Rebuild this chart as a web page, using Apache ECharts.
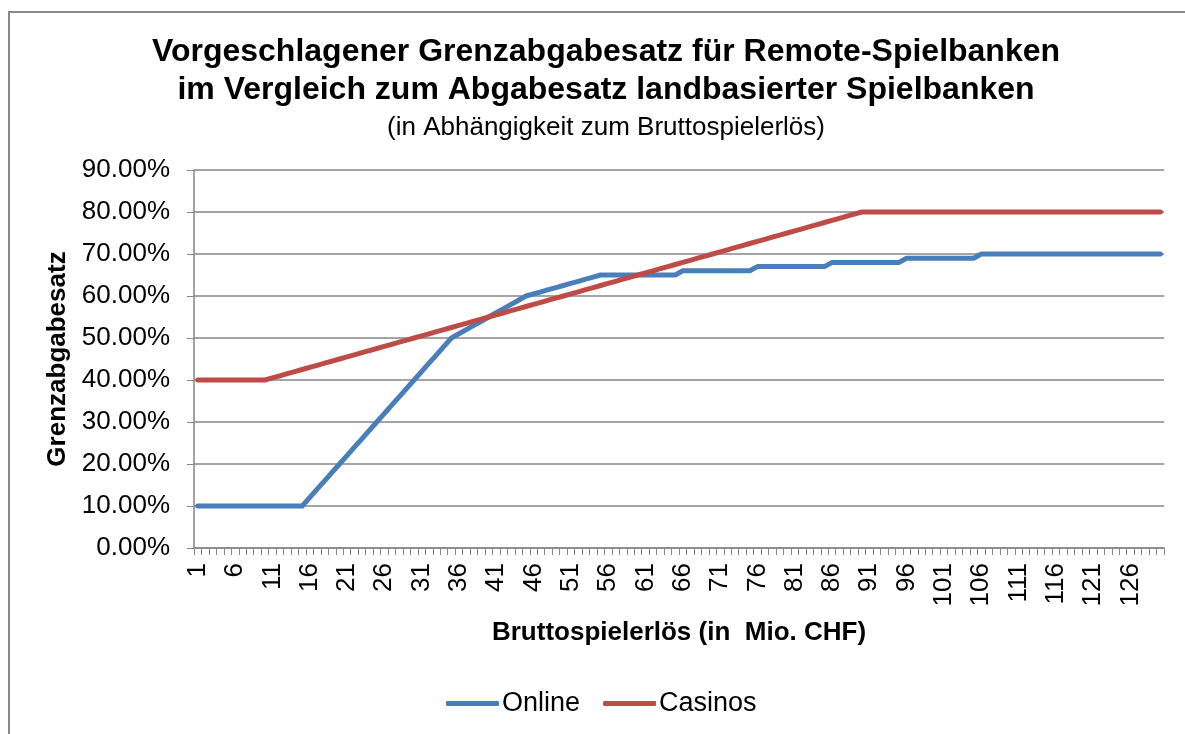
<!DOCTYPE html>
<html>
<head>
<meta charset="utf-8">
<script src="https://cdn.jsdelivr.net/npm/echarts@6/dist/echarts.min.js"></script>
<style>
  html, body { margin: 0; padding: 0; background: #fff; overflow: hidden; }
  #frame { position: absolute; left: 8px; top: 11px; width: 1300px; height: 900px;
           border-top: 2px solid #888; border-left: 2px solid #888; }
  #chart { position: absolute; left: 0; top: 0; width: 1185px; height: 734px; }
</style>
</head>
<body>
<div id="frame"></div>
<div id="chart"></div>
<script>
// Bruttospielerlös in Mio. CHF, 1..130
var categories = [];
for (var i = 1; i <= 130; i++) categories.push(String(i));

// Grenzabgabesatz in %
var online = [
  10, 10, 10, 10, 10, 10, 10, 10, 10, 10, 10, 10, 10, 10, 10,
  12, 14, 16, 18, 20, 22, 24, 26, 28, 30, 32, 34, 36, 38, 40, 42, 44, 46, 48, 50,
  51, 52, 53, 54, 55, 56, 57, 58, 59, 60,
  60.5, 61, 61.5, 62, 62.5, 63, 63.5, 64, 64.5, 65,
  65, 65, 65, 65, 65, 65, 65, 65, 65, 65,
  66, 66, 66, 66, 66, 66, 66, 66, 66, 66,
  67, 67, 67, 67, 67, 67, 67, 67, 67, 67,
  68, 68, 68, 68, 68, 68, 68, 68, 68, 68,
  69, 69, 69, 69, 69, 69, 69, 69, 69, 69,
  70, 70, 70, 70, 70, 70, 70, 70, 70, 70, 70, 70, 70, 70, 70, 70, 70, 70, 70, 70, 70, 70, 70, 70, 70
];

var casinos = [
  40, 40, 40, 40, 40, 40, 40, 40, 40, 40,
  40.5, 41, 41.5, 42, 42.5, 43, 43.5, 44, 44.5, 45,
  45.5, 46, 46.5, 47, 47.5, 48, 48.5, 49, 49.5, 50,
  50.5, 51, 51.5, 52, 52.5, 53, 53.5, 54, 54.5, 55,
  55.5, 56, 56.5, 57, 57.5, 58, 58.5, 59, 59.5, 60,
  60.5, 61, 61.5, 62, 62.5, 63, 63.5, 64, 64.5, 65,
  65.5, 66, 66.5, 67, 67.5, 68, 68.5, 69, 69.5, 70,
  70.5, 71, 71.5, 72, 72.5, 73, 73.5, 74, 74.5, 75,
  75.5, 76, 76.5, 77, 77.5, 78, 78.5, 79, 79.5, 80,
  80, 80, 80, 80, 80, 80, 80, 80, 80, 80,
  80, 80, 80, 80, 80, 80, 80, 80, 80, 80,
  80, 80, 80, 80, 80, 80, 80, 80, 80, 80,
  80, 80, 80, 80, 80, 80, 80, 80, 80, 80
];

var FONT = '"Liberation Sans", Arial, sans-serif';
var GREY = '#868686';

var chart = echarts.init(document.getElementById('chart'));
chart.setOption({
  animation: false,
  backgroundColor: 'transparent',
  textStyle: { fontFamily: FONT },
  title: {
    text: 'Vorgeschlagener Grenzabgabesatz für Remote-Spielbanken\nim Vergleich zum Abgabesatz landbasierter Spielbanken',
    subtext: '(in Abhängigkeit zum Bruttospielerlös)',
    left: 601,
    textAlign: 'center',
    top: 28,
    itemGap: 2,
    textStyle: { fontFamily: FONT, fontSize: 32, fontWeight: 'bold', color: '#000', lineHeight: 38 },
    subtextStyle: { fontFamily: FONT, fontSize: 26, color: '#000', lineHeight: 34 }
  },
  legend: {
    bottom: 12,
    left: 441,
    itemWidth: 53,
    itemHeight: 5,
    itemGap: 23,
    icon: 'roundRect',
    textStyle: { fontFamily: FONT, fontSize: 27, color: '#000', padding: [0, 0, 0, -2] },
    data: ['Online', 'Casinos']
  },
  grid: { left: 194, right: 21, top: 170, bottom: 186, containLabel: false },
  xAxis: {
    type: 'category',
    data: categories,
    boundaryGap: true,
    name: 'Bruttospielerlös (in  Mio. CHF)',
    nameLocation: 'middle',
    nameGap: 72,
    nameTextStyle: { fontFamily: FONT, fontSize: 26, fontWeight: 'bold', color: '#000' },
    axisLine: { lineStyle: { color: GREY, width: 1.5 } },
    axisTick: { show: true, interval: 0, length: 7, lineStyle: { color: GREY } },
    axisLabel: { interval: 4, rotate: 90, margin: 15, fontSize: 26, color: '#000', fontFamily: FONT },
    splitLine: { show: false }
  },
  yAxis: {
    type: 'value',
    min: 0,
    max: 90,
    interval: 10,
    name: 'Grenzabgabesatz',
    nameLocation: 'middle',
    nameGap: 123,
    nameTextStyle: { fontFamily: FONT, fontSize: 26, fontWeight: 'bold', color: '#000' },
    axisLine: { show: true, lineStyle: { color: GREY, width: 1.5 } },
    axisTick: { show: true, length: 7, lineStyle: { color: GREY } },
    axisLabel: {
      margin: 24, fontSize: 26, color: '#000', fontFamily: FONT,
      formatter: function (v) { return v.toFixed(2) + '%'; }
    },
    splitLine: { lineStyle: { color: GREY, width: 1.5 } }
  },
  series: [
    {
      name: 'Online', type: 'line', data: online, symbol: 'none',
      itemStyle: { color: '#4A7EBB' },
      lineStyle: { color: '#4A7EBB', width: 5, cap: 'round', join: 'round' }
    },
    {
      name: 'Casinos', type: 'line', data: casinos, symbol: 'none',
      itemStyle: { color: '#BE4B48' },
      lineStyle: { color: '#BE4B48', width: 5, cap: 'round', join: 'round' }
    }
  ]
});
</script>
</body>
</html>
